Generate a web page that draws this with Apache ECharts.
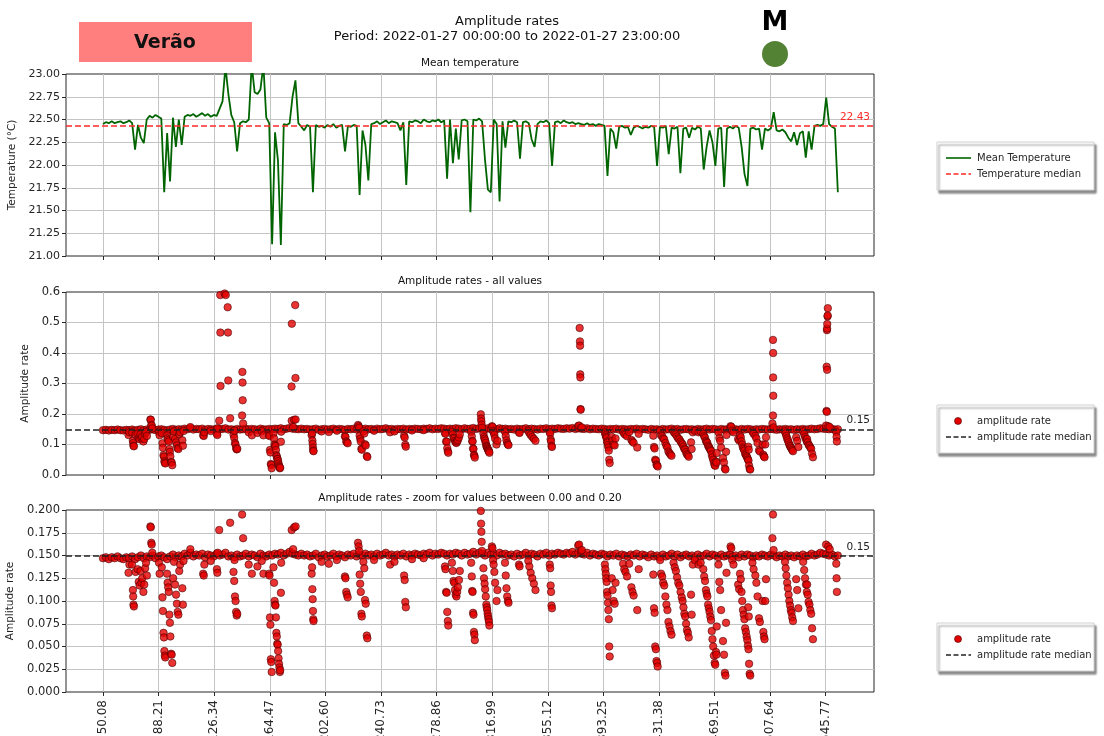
<!DOCTYPE html>
<html>
<head>
<meta charset="utf-8">
<script src="https://cdn.jsdelivr.net/npm/echarts@6/dist/echarts.min.js"></script>
<style>
  html, body { margin: 0; padding: 0; background: #ffffff; }
  #chart { width: 1104px; height: 736px; }
</style>
</head>
<body>
<div id="chart"></div>
<script>
// ---- data -------------------------------------------------------------
// samples are evenly spaced along the x axis, starting at sampleStart
const sampleStart = 50.08;
const sampleStep = 2.0;

const xTickValues = [50.08, 88.21, 126.34, 164.47, 202.60, 240.73, 278.86,
  316.99, 355.12, 393.25, 431.38, 469.51, 507.64, 545.77];

// mean temperature per sample (°C)
const meanTemperature = [
  22.45, 22.47, 22.46, 22.48, 22.46, 22.47, 22.48, 22.46, 22.47, 22.49,
  22.46, 22.17, 22.44, 22.30, 22.24, 22.50, 22.54, 22.52, 22.55, 22.53,
  22.51, 21.70, 22.35, 21.82, 22.52, 22.20, 22.50, 22.22, 22.53, 22.55,
  22.54, 22.56, 22.53, 22.55, 22.57, 22.54, 22.56, 22.53, 22.55, 22.54,
  22.62, 22.70, 23.08, 22.78, 22.55, 22.47, 22.15, 22.46, 22.48, 22.47,
  22.50, 23.10, 22.80, 22.78, 22.83, 23.10, 22.52, 22.46, 21.13, 22.36,
  22.05, 21.12, 22.45, 22.44, 22.46, 22.75, 22.93, 22.46, 22.42, 22.38,
  22.44, 22.42, 21.70, 22.44, 22.42, 22.43, 22.41, 22.44, 22.42, 22.45,
  22.41, 22.43, 22.44, 22.15, 22.43, 22.42, 22.44, 22.43, 21.67, 22.38,
  22.22, 21.83, 22.45, 22.46, 22.48, 22.45, 22.47, 22.49, 22.46, 22.48,
  22.47, 22.46, 22.38, 22.47, 21.78, 22.48, 22.47, 22.49, 22.48, 22.46,
  22.50, 22.48, 22.47, 22.49, 22.48, 22.50, 22.47, 22.49, 21.85, 22.50,
  22.02, 22.40, 22.06, 22.49, 22.50, 22.48, 21.48, 22.50, 22.49, 22.51,
  22.48, 22.06, 21.73, 21.70, 22.50, 22.45, 21.60, 22.48, 22.19, 22.48,
  22.47, 22.49, 22.47, 22.07, 22.47, 22.48, 22.46, 22.28, 22.20, 22.45,
  22.48, 22.47, 22.49, 22.46, 21.99, 22.47, 22.48, 22.46, 22.49, 22.47,
  22.46, 22.47, 22.45, 22.46, 22.45, 22.44, 22.46, 22.44, 22.45, 22.43,
  22.45, 22.44, 22.43, 21.88, 22.40, 22.36, 22.18, 22.42, 22.43, 22.41,
  22.42, 22.33, 22.41, 22.43, 22.42, 22.40, 22.42, 22.41, 22.43, 22.42,
  21.99, 22.42, 22.41, 22.43, 22.12, 22.41, 22.40, 22.42, 21.91, 22.40,
  22.41, 22.30, 22.41, 22.39, 22.42, 22.40, 21.95, 22.20, 22.38, 22.25,
  21.99, 22.40, 22.41, 21.76, 22.40, 22.42, 22.40, 22.43, 22.41, 22.20,
  21.90, 21.77, 22.40, 22.41, 22.39, 22.40, 22.17, 22.40, 22.38, 22.40,
  22.58, 22.38, 22.37, 22.39, 22.36, 22.30, 22.26, 22.36, 22.22, 22.35,
  22.37, 22.08, 22.37, 22.17, 22.43, 22.44, 22.43, 22.45, 22.74, 22.45,
  22.42, 22.40, 21.70
];
const temperatureMedian = 22.43;

// amplitude rate per sample
const amplitudeRate = [
  0.147, 0.148, 0.146, 0.148, 0.147, 0.149, 0.147, 0.146, 0.148, 0.147,
  0.149, 0.146, 0.148, 0.150, 0.147, 0.149, 0.148, 0.150, 0.147, 0.149,
  0.150, 0.148, 0.146, 0.149, 0.151, 0.148, 0.150, 0.149, 0.152, 0.150,
  0.153, 0.149, 0.151, 0.150, 0.152, 0.148, 0.151, 0.150, 0.149, 0.152,
  0.150, 0.151, 0.153, 0.149, 0.150, 0.148, 0.151, 0.149, 0.150, 0.152,
  0.149, 0.151, 0.150, 0.148, 0.152, 0.150, 0.149, 0.151, 0.150, 0.152,
  0.151, 0.153, 0.150, 0.152, 0.154, 0.152, 0.151, 0.150, 0.152, 0.150,
  0.151, 0.149, 0.150, 0.152, 0.148, 0.150, 0.151, 0.149, 0.150, 0.152,
  0.149, 0.151, 0.150, 0.148, 0.151, 0.150, 0.152, 0.149, 0.151, 0.150,
  0.152, 0.150, 0.151, 0.149, 0.152, 0.150, 0.151, 0.153, 0.150, 0.151,
  0.149, 0.151, 0.150, 0.152, 0.149, 0.151, 0.150, 0.152, 0.151, 0.150,
  0.152, 0.151, 0.153, 0.150, 0.152, 0.151, 0.153, 0.152, 0.150, 0.152,
  0.151, 0.153, 0.152, 0.150, 0.153, 0.151, 0.152, 0.154, 0.151, 0.153,
  0.152, 0.150, 0.153, 0.151, 0.152, 0.150, 0.153, 0.151, 0.152, 0.150,
  0.151, 0.149, 0.152, 0.150, 0.151, 0.153, 0.150, 0.152, 0.151, 0.149,
  0.152, 0.151, 0.153, 0.150, 0.152, 0.151, 0.153, 0.152, 0.151, 0.153,
  0.152, 0.154, 0.151, 0.153, 0.152, 0.151, 0.153, 0.150, 0.152, 0.151,
  0.150, 0.152, 0.151, 0.149, 0.151, 0.150, 0.152, 0.149, 0.151, 0.150,
  0.149, 0.151, 0.150, 0.152, 0.149, 0.151, 0.150, 0.148, 0.151, 0.149,
  0.150, 0.148, 0.151, 0.149, 0.150, 0.152, 0.149, 0.151, 0.148, 0.150,
  0.151, 0.149, 0.150, 0.148, 0.151, 0.149, 0.150, 0.152, 0.149, 0.151,
  0.150, 0.148, 0.151, 0.149, 0.150, 0.151, 0.149, 0.150, 0.148, 0.151,
  0.149, 0.151, 0.150, 0.148, 0.150, 0.149, 0.151, 0.150, 0.149, 0.151,
  0.150, 0.148, 0.150, 0.149, 0.151, 0.149, 0.150, 0.148, 0.150, 0.149,
  0.151, 0.149, 0.150, 0.152, 0.150, 0.151, 0.153, 0.152, 0.151, 0.150,
  0.151, 0.149, 0.150
];

// additional amplitude readings between samples: [x, rate]
const amplitudeBursts = [
  [67.6, 0.131], [68.2, 0.140],
  [70.0, 0.140], [70.6, 0.112], [70.8, 0.105], [71.0, 0.096], [71.3, 0.094], [72.5, 0.132],
  [73.8, 0.135], [74.6, 0.121], [75.2, 0.117], [75.8, 0.133], [76.5, 0.120], [77.0, 0.125],
  [77.8, 0.110], [78.4, 0.118], [79.0, 0.136], [79.6, 0.142], [80.2, 0.128],
  [82.6, 0.182], [82.9, 0.181], [83.2, 0.164], [83.5, 0.162], [83.9, 0.153],
  [88.5, 0.142], [88.9, 0.130],
  [90.4, 0.137], [90.9, 0.104], [91.2, 0.089], [91.6, 0.065], [91.9, 0.060], [92.2, 0.045],
  [92.5, 0.040], [92.8, 0.038],
  [94.0, 0.130], [94.4, 0.120], [94.8, 0.115], [95.2, 0.110], [95.6, 0.085], [96.0, 0.076],
  [96.3, 0.061], [96.8, 0.042], [97.2, 0.041], [97.6, 0.032], [98.2, 0.125],
  [98.8, 0.143], [99.5, 0.118], [100.2, 0.107], [100.8, 0.097], [101.3, 0.088], [101.8, 0.085],
  [102.4, 0.133], [103.0, 0.140], [104.5, 0.114], [104.9, 0.096], [105.3, 0.144],
  [110.0, 0.157], [118.8, 0.130], [119.2, 0.128], [119.6, 0.140], [124.0, 0.144],
  [128.2, 0.135], [128.5, 0.131], [128.8, 0.153], [129.8, 0.178],
  [130.5, 0.590], [130.6, 0.467], [130.7, 0.292], [133.5, 0.595], [134.3, 0.590],
  [135.6, 0.550], [135.8, 0.467], [136.0, 0.310], [137.3, 0.186],
  [139.6, 0.132], [140.1, 0.122], [140.3, 0.145], [140.6, 0.105], [141.0, 0.100],
  [141.4, 0.088], [141.8, 0.084], [142.2, 0.086],
  [145.5, 0.195], [145.7, 0.338], [145.8, 0.303], [145.9, 0.245], [146.2, 0.169],
  [150.0, 0.140], [152.2, 0.130], [156.0, 0.138], [159.0, 0.144], [160.1, 0.130],
  [164.0, 0.130], [164.3, 0.128], [164.6, 0.082], [164.9, 0.074], [165.2, 0.036],
  [165.5, 0.033], [165.8, 0.022],
  [167.0, 0.137], [167.4, 0.120], [167.8, 0.100], [168.1, 0.096], [168.4, 0.095],
  [168.7, 0.082], [169.0, 0.065], [169.3, 0.061], [169.6, 0.053], [169.9, 0.052],
  [170.2, 0.045], [170.5, 0.037], [170.8, 0.031], [171.1, 0.027], [171.4, 0.022], [171.6, 0.024],
  [172.1, 0.109], [172.3, 0.142],
  [179.4, 0.290], [179.5, 0.178], [179.6, 0.496], [180.5, 0.157], [181.2, 0.181],
  [181.9, 0.557], [182.1, 0.318], [182.2, 0.182],
  [193.2, 0.130], [193.5, 0.137], [193.7, 0.113], [193.9, 0.102], [194.1, 0.089],
  [194.3, 0.080], [194.5, 0.078],
  [200.0, 0.143], [205.0, 0.141], [210.5, 0.145],
  [216.0, 0.127], [216.4, 0.125], [216.9, 0.110], [217.4, 0.107], [217.9, 0.104],
  [225.0, 0.164], [225.4, 0.160], [225.8, 0.155], [226.1, 0.129], [226.5, 0.119],
  [226.9, 0.110], [227.3, 0.086], [227.6, 0.083],
  [228.7, 0.143], [229.3, 0.136], [229.8, 0.101], [230.3, 0.097], [231.0, 0.062], [231.4, 0.059],
  [236.0, 0.145], [247.0, 0.140], [250.0, 0.143],
  [256.6, 0.128], [257.0, 0.123], [257.4, 0.099], [257.8, 0.093],
  [262.0, 0.146], [270.0, 0.147],
  [284.6, 0.138], [285.0, 0.135], [285.4, 0.110], [285.8, 0.109], [286.2, 0.088],
  [286.6, 0.078], [286.9, 0.073],
  [289.4, 0.142], [290.0, 0.133], [290.5, 0.122], [291.0, 0.120], [291.5, 0.112],
  [292.0, 0.107], [292.5, 0.105], [293.0, 0.110], [293.5, 0.115], [294.2, 0.123], [294.8, 0.133],
  [302.6, 0.142], [303.0, 0.127], [303.3, 0.111], [303.6, 0.110], [303.9, 0.087],
  [304.2, 0.085], [304.5, 0.066], [304.8, 0.063], [305.1, 0.057],
  [309.2, 0.199], [309.4, 0.185], [309.6, 0.176], [309.8, 0.165], [310.0, 0.155],
  [311.0, 0.136], [311.4, 0.125], [311.8, 0.119], [312.2, 0.113], [312.6, 0.105],
  [313.0, 0.096], [313.3, 0.093], [313.6, 0.090], [313.9, 0.086], [314.2, 0.083],
  [314.5, 0.080], [314.8, 0.077], [315.1, 0.073],
  [316.8, 0.160], [317.2, 0.158], [317.6, 0.145], [318.0, 0.140], [318.5, 0.132],
  [319.0, 0.120], [320.0, 0.100], [320.6, 0.112],
  [325.8, 0.142], [326.3, 0.128], [326.8, 0.114], [327.3, 0.105], [327.8, 0.100], [328.2, 0.098],
  [335.4, 0.140], [335.8, 0.138],
  [341.8, 0.144], [342.5, 0.138], [343.4, 0.131], [344.5, 0.125], [345.6, 0.119], [346.7, 0.112],
  [356.5, 0.140], [356.8, 0.136], [357.1, 0.117], [357.4, 0.110], [357.7, 0.095], [358.0, 0.092],
  [376.0, 0.161], [376.6, 0.162], [377.0, 0.482], [377.2, 0.438], [377.3, 0.424],
  [377.4, 0.330], [377.5, 0.320], [377.6, 0.216], [377.7, 0.214], [377.9, 0.155], [378.5, 0.156],
  [394.3, 0.140], [394.6, 0.135], [394.9, 0.130], [395.2, 0.125], [395.5, 0.121],
  [395.8, 0.110], [396.1, 0.106], [396.4, 0.098], [396.7, 0.090], [397.0, 0.080],
  [397.3, 0.050], [397.6, 0.039],
  [399.0, 0.125], [399.6, 0.112], [400.3, 0.100], [401.0, 0.097], [401.6, 0.120],
  [406.8, 0.141], [407.6, 0.135], [408.4, 0.132], [409.5, 0.127], [411.0, 0.141],
  [412.5, 0.115], [413.2, 0.110], [414.0, 0.106], [416.5, 0.090], [417.5, 0.135],
  [427.5, 0.129], [428.0, 0.092], [428.4, 0.087], [428.8, 0.050], [429.3, 0.047],
  [429.7, 0.034], [430.1, 0.032], [430.5, 0.028],
  [432.2, 0.145], [432.8, 0.130], [433.6, 0.127], [434.3, 0.120], [435.0, 0.117],
  [435.8, 0.105], [436.5, 0.096], [437.2, 0.090], [437.9, 0.077], [438.6, 0.072],
  [439.3, 0.067], [440.0, 0.063],
  [441.4, 0.142], [442.2, 0.137], [443.0, 0.133], [443.8, 0.126], [444.6, 0.120],
  [445.4, 0.117], [446.2, 0.110], [447.0, 0.104], [447.6, 0.100], [448.2, 0.093],
  [448.8, 0.086], [449.4, 0.083], [450.0, 0.075], [450.6, 0.068], [451.2, 0.065],
  [451.8, 0.060], [453.4, 0.107], [453.8, 0.085], [454.6, 0.140],
  [456.0, 0.145], [458.5, 0.140], [460.0, 0.142],
  [461.8, 0.135], [462.4, 0.127], [463.0, 0.122], [463.6, 0.112], [464.1, 0.108],
  [464.6, 0.105], [465.1, 0.096], [465.6, 0.092], [466.1, 0.088], [466.6, 0.083],
  [467.1, 0.079], [467.6, 0.067], [468.1, 0.058], [468.6, 0.050], [469.1, 0.040],
  [469.6, 0.032], [470.0, 0.030], [470.5, 0.044], [470.8, 0.041], [471.0, 0.072],
  [472.2, 0.140], [472.8, 0.121], [473.4, 0.112], [474.0, 0.090], [475.3, 0.056],
  [476.0, 0.041], [476.6, 0.021], [477.0, 0.018], [477.4, 0.076], [477.7, 0.131],
  [480.5, 0.160], [481.0, 0.158], [481.6, 0.145], [482.5, 0.140], [485.7, 0.118], [486.4, 0.113],
  [487.0, 0.130], [487.5, 0.124], [488.0, 0.110], [488.5, 0.100], [489.0, 0.090],
  [489.5, 0.085], [490.0, 0.080], [490.5, 0.070], [491.0, 0.066], [491.5, 0.061],
  [492.0, 0.057], [492.4, 0.051], [492.6, 0.093], [492.8, 0.047], [493.0, 0.083],
  [493.2, 0.031], [493.6, 0.020], [494.0, 0.018],
  [495.5, 0.142], [496.3, 0.135], [497.5, 0.128], [498.2, 0.120], [499.0, 0.105],
  [500.0, 0.081], [500.6, 0.077], [502.5, 0.100], [503.0, 0.066], [503.4, 0.061],
  [503.8, 0.058], [504.3, 0.100], [504.8, 0.124],
  [509.2, 0.169], [509.6, 0.195], [509.6, 0.443], [509.7, 0.400], [509.7, 0.320],
  [509.8, 0.260], [510.0, 0.156],
  [517.8, 0.143], [518.3, 0.136], [518.8, 0.128], [519.3, 0.120], [519.8, 0.114],
  [520.3, 0.107], [520.8, 0.100], [521.3, 0.095], [521.8, 0.090], [522.3, 0.087],
  [522.8, 0.082], [523.3, 0.078], [525.5, 0.124], [526.2, 0.112], [527.0, 0.092],
  [530.3, 0.143], [531.0, 0.134], [531.6, 0.125], [532.2, 0.118], [532.8, 0.110],
  [533.0, 0.118], [533.4, 0.107], [534.0, 0.099], [534.6, 0.096], [535.2, 0.090],
  [535.8, 0.086], [536.4, 0.070], [537.0, 0.058],
  [546.0, 0.162], [546.3, 0.210], [546.4, 0.355], [546.5, 0.207], [546.6, 0.475],
  [546.7, 0.345], [546.7, 0.480], [546.8, 0.495], [547.0, 0.520], [547.1, 0.523],
  [547.2, 0.547], [547.5, 0.160], [548.5, 0.157],
  [553.0, 0.141], [553.2, 0.125], [553.4, 0.110]
];
const amplitudeMedian = 0.15;

// ---- build series data -------------------------------------------------
const temperaturePoints = meanTemperature.map((v, i) => [sampleStart + i * sampleStep, v]);
const amplitudePoints = amplitudeRate
  .map((v, i) => [sampleStart + i * sampleStep, v])
  .concat(amplitudeBursts);

// ---- styling -----------------------------------------------------------
const FONT = 'DejaVu Sans';
const INK = '#262626';
const X_MIN = 24.72, X_MAX = 578.87;

// fixed panel boxes; tick labels may run past the canvas edge
const grids = [
  { left: 66, width: 808, top: 74, height: 182 },
  { left: 66, width: 808, top: 292, height: 183 },
  { left: 66, width: 808, top: 510, height: 182 }
].map(g => Object.assign(g, {
  show: true, borderColor: INK, borderWidth: 1, backgroundColor: 'transparent',
  containLabel: false, outerBoundsMode: 'none'
}));

function xAxis(idx, withLabels) {
  return {
    type: 'value', gridIndex: idx, min: X_MIN, max: X_MAX,
    axisLine: { show: false },
    axisTick: { show: true, length: 4, lineStyle: { color: INK }, customValues: xTickValues },
    splitLine: { show: true, lineStyle: { color: '#c4c4c4', width: 1 } },
    axisLabel: withLabels ? {
      show: true, customValues: xTickValues, rotate: 90, margin: 8,
      fontFamily: FONT, fontSize: 12, color: INK, hideOverlap: false,
      formatter: v => v.toFixed(2)
    } : { show: false }
  };
}

function yAxis(idx, min, max, interval, digits, name, gap, size) {
  return {
    type: 'value', gridIndex: idx, min, max, interval,
    name, nameLocation: 'middle', nameGap: gap,
    nameTextStyle: { fontFamily: FONT, fontSize: 10.5, color: INK },
    axisLine: { show: false },
    axisTick: { show: true, length: 4, lineStyle: { color: INK } },
    splitLine: { show: true, showMinLine: false, showMaxLine: false, lineStyle: { color: '#c4c4c4', width: 1 } },
    axisLabel: { fontFamily: FONT, fontSize: size, color: INK, margin: 6, formatter: v => v.toFixed(digits) }
  };
}

function medianLine(xi, yi, value, color, digits) {
  return {
    type: 'line', xAxisIndex: xi, yAxisIndex: yi, data: [], z: 10, silent: true,
    markLine: {
      silent: true, symbol: 'none', animation: false,
      lineStyle: { color, type: [6, 3], width: 1.5 },
      label: {
        show: true, position: 'insideEndTop', distance: [4, 3],
        formatter: () => value.toFixed(digits),
        fontFamily: FONT, fontSize: 10.5, color
      },
      data: [{ yAxis: value }]
    }
  };
}

const scatterStyle = {
  symbol: 'circle', symbolSize: 7.5, clip: true,
  itemStyle: { color: '#e50000', borderColor: '#400000', borderWidth: 0.7 }
};

function txt(x, y, text, size, opts) {
  return Object.assign({
    type: 'text', x, y, silent: true,
    style: { text, fill: '#111', font: size + 'px "' + FONT + '"', textAlign: 'center', textVerticalAlign: 'middle' }
  }, opts || {});
}

function legendBox(top, rows) {
  const els = [{
    type: 'rect', shape: { x: 937, y: top, width: 157, height: 48 },
    style: { fill: '#ffffff', stroke: '#d0d0d0', lineWidth: 1,
      shadowColor: 'rgba(0,0,0,0.45)', shadowBlur: 2, shadowOffsetX: 2, shadowOffsetY: 3 }
  }];
  rows.forEach((r, k) => {
    const cy = top + 16 + k * 16;
    if (r.kind === 'dot') {
      els.push({ type: 'circle', shape: { cx: 958, cy, r: 3.5 }, style: { fill: '#e50000', stroke: '#400000', lineWidth: 0.6 } });
    } else {
      els.push({ type: 'line', shape: { x1: 946, y1: cy, x2: 971, y2: cy },
        style: { stroke: r.color, lineWidth: 1.6, lineDash: r.dash ? [5, 2.5] : null } });
    }
    els.push({ type: 'text', x: 977, y: cy, style: { text: r.text, fill: INK,
      font: '10px "' + FONT + '"', textAlign: 'left', textVerticalAlign: 'middle' } });
  });
  return els;
}

const graphics = [
  { type: 'rect', shape: { x: 79, y: 22, width: 173, height: 40 }, style: { fill: '#ff7f7f' } },
  txt(165, 43, 'Verão', 19, { style: { text: 'Verão', fill: '#111', font: 'bold 19px "' + FONT + '"', textAlign: 'center', textVerticalAlign: 'middle' } }),
  txt(775, 23, 'M', 27, { style: { text: 'M', fill: '#000', font: 'bold 27px "' + FONT + '"', textAlign: 'center', textVerticalAlign: 'middle' } }),
  { type: 'circle', shape: { cx: 775, cy: 54, r: 13 }, style: { fill: '#548235' } },
  txt(507, 22, 'Amplitude rates', 13),
  txt(507, 37, 'Period: 2022-01-27 00:00:00 to 2022-01-27 23:00:00', 13),
  txt(470, 63, 'Mean temperature', 10.5),
  txt(470, 281, 'Amplitude rates - all values', 10.5),
  txt(470, 498, 'Amplitude rates - zoom for values between 0.00 and 0.20', 10.5)
].concat(
  legendBox(142, [
    { kind: 'line', color: '#006400', text: 'Mean Temperature' },
    { kind: 'line', color: '#ff2a2a', dash: true, text: 'Temperature median' }
  ]),
  legendBox(405, [
    { kind: 'dot', text: 'amplitude rate' },
    { kind: 'line', color: '#222222', dash: true, text: 'amplitude rate median' }
  ]),
  legendBox(623, [
    { kind: 'dot', text: 'amplitude rate' },
    { kind: 'line', color: '#222222', dash: true, text: 'amplitude rate median' }
  ])
);

const option = {
  animation: false,
  backgroundColor: '#ffffff',
  textStyle: { fontFamily: FONT },
  grid: grids,
  xAxis: [xAxis(0, false), xAxis(1, false), xAxis(2, true)],
  yAxis: [
    yAxis(0, 21, 23, 0.25, 2, 'Temperature (°C)', 38, 11),
    yAxis(1, 0, 0.6, 0.1, 1, 'Amplitude rate', 24, 11.5),
    yAxis(2, 0, 0.2, 0.025, 3, 'Amplitude rate', 38, 11.5)
  ],
  series: [
    {
      name: 'Mean Temperature', type: 'line', xAxisIndex: 0, yAxisIndex: 0,
      data: temperaturePoints, showSymbol: false, clip: true, z: 3,
      lineStyle: { color: '#006400', width: 1.8 }
    },
    medianLine(0, 0, temperatureMedian, '#ff2a2a', 2),
    Object.assign({ name: 'amplitude rate', type: 'scatter', xAxisIndex: 1, yAxisIndex: 1, data: amplitudePoints, z: 3 }, scatterStyle),
    medianLine(1, 1, amplitudeMedian, '#222222', 2),
    Object.assign({ name: 'amplitude rate', type: 'scatter', xAxisIndex: 2, yAxisIndex: 2, data: amplitudePoints, z: 3 }, scatterStyle),
    medianLine(2, 2, amplitudeMedian, '#222222', 2)
  ],
  graphic: { elements: graphics }
};

const chart = echarts.init(document.getElementById('chart'), null, { renderer: 'canvas' });
chart.setOption(option);
</script>
</body>
</html>
